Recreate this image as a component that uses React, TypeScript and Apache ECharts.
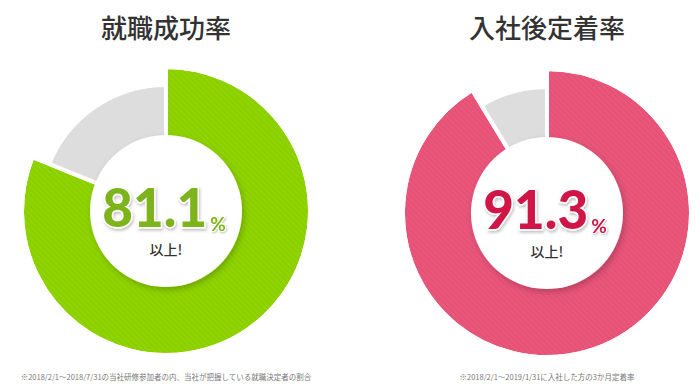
import React, { useEffect, useRef } from "react";
import * as echarts from "echarts";

const titles = ["就職成功率", "入社後定着率"];
const rates = [81.1, 91.3];
const suffix = "以上!";
const notes = [
  "※2018/2/1～2018/7/31の当社研修参加者の内、当社が把握している就職決定者の割合",
  "※2018/2/1～2019/1/31に入社した方の3か月定着率",
];
const ringColors = ["#8fd400", "#ea557a"];
const numColors = ["#7db41e", "#cf1746"];

export default function App() {
  const ref = useRef<HTMLDivElement>(null);
  useEffect(() => {
    if (!ref.current) return;
    const chart = echarts.init(ref.current, null, { renderer: "svg" });
    const centers: [number, number][] = [
      [166, 211],
      [547, 213],
    ];
    const stripe = {
      symbol: "rect",
      symbolSize: 1,
      color: "rgba(0,0,0,0.045)",
      dashArrayX: [1, 0],
      dashArrayY: [1, 3],
      rotation: Math.PI / 4,
    };
    const transparent = { color: "rgba(0,0,0,0)", borderWidth: 0 };
    const series: any[] = [];
    const graphics: any[] = [];
    rates.forEach((r, i) => {
      const rest = +(100 - r).toFixed(1);
      const c = centers[i];
      series.push({
        type: "pie",
        center: c,
        radius: [60, 144],
        startAngle: 90,
        silent: true,
        label: { show: false },
        labelLine: { show: false },
        data: [
          {
            value: r,
            itemStyle: { color: ringColors[i], borderColor: "#fff", borderWidth: 4, decal: stripe },
          },
          { value: rest, itemStyle: transparent },
        ],
      });
      series.push({
        type: "pie",
        center: c,
        radius: [60, 126],
        startAngle: 90,
        silent: true,
        label: { show: false },
        labelLine: { show: false },
        data: [
          { value: r, itemStyle: transparent },
          {
            value: rest,
            itemStyle: { color: "#dddddd", borderColor: "#fff", borderWidth: 4 },
          },
        ],
      });
      series.push({
        type: "pie",
        center: c,
        radius: [0, 76],
        silent: true,
        label: { show: false },
        labelLine: { show: false },
        data: [
          {
            value: 1,
            itemStyle: {
              color: "#ffffff",
              shadowColor: "rgba(0,0,0,0.22)",
              shadowBlur: 6,
              shadowOffsetX: 2,
              shadowOffsetY: 3,
            },
          },
        ],
      });
      graphics.push({
        type: "text",
        x: c[0],
        y: 26,
        style: {
          text: titles[i],
          textAlign: "center",
          textVerticalAlign: "middle",
          fontSize: 26,
          fontFamily: "Noto Sans CJK JP",
          fontWeight: 500,
          fill: "#333333",
        },
      });
      graphics.push({
        type: "text",
        x: c[0] - 2,
        y: c[1] - 6,
        z: 100,
        style: {
          text: "{n|" + r.toFixed(1) + "}{p|%}",
          textAlign: "center",
          textVerticalAlign: "middle",
          rich: {
            n: {
              fontSize: 53,
              fontFamily: "Lato",
              fontWeight: 900,
              fill: numColors[i],
              stroke: "#ffffff",
              lineWidth: 3,
              textShadowColor: "rgba(0,0,0,0.25)",
              textShadowBlur: 3,
              textShadowOffsetX: 1,
              textShadowOffsetY: 2,
              verticalAlign: "bottom",
              lineHeight: 56,
            },
            p: {
              fontSize: 19,
              fontFamily: "Lato",
              fontWeight: 700,
              fill: numColors[i],
              stroke: "#ffffff",
              lineWidth: 2,
              textShadowColor: "rgba(0,0,0,0.25)",
              textShadowBlur: 2,
              textShadowOffsetX: 1,
              textShadowOffsetY: 1,
              verticalAlign: "bottom",
              lineHeight: 46,
              padding: [0, 0, 0, 3],
            },
          },
        },
      });
      graphics.push({
        type: "text",
        x: c[0],
        y: c[1] + 38,
        z: 100,
        style: {
          text: suffix,
          textAlign: "center",
          textVerticalAlign: "middle",
          fontSize: 14,
          fontFamily: "Noto Sans CJK JP",
          fontWeight: 500,
          fill: "#333333",
        },
      });
      graphics.push({
        type: "text",
        x: c[0],
        y: 376,
        style: {
          text: notes[i],
          textAlign: "center",
          textVerticalAlign: "middle",
          fontSize: 7.5,
          fontFamily: "Noto Sans CJK JP",
          fill: "#777777",
        },
      });
    });
    chart.setOption({
      animation: false,
      backgroundColor: "#ffffff",
      series,
      graphic: { elements: graphics },
    });
    return () => chart.dispose();
  }, []);
  return (
    <div
      ref={ref}
      style={{ position: "fixed", left: 0, top: 0, width: 700, height: 391 }}
    />
  );
}
